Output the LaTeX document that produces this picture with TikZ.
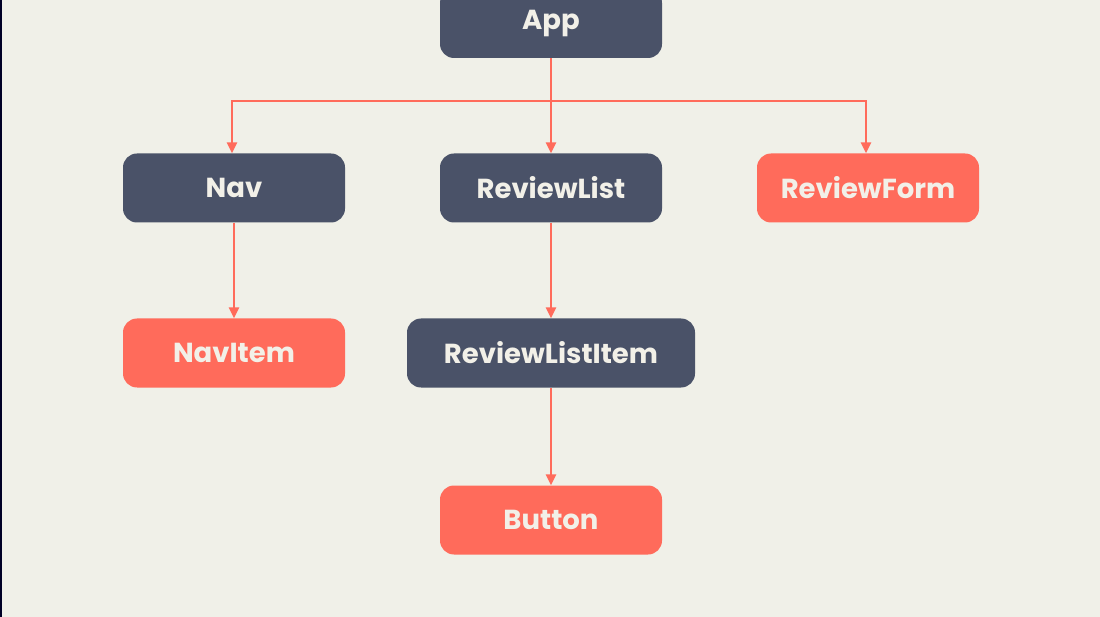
\documentclass[tikz,border=0pt]{standalone}
\usepackage{fontspec}
\setmainfont{Poppins}
\usetikzlibrary{arrows.meta}
\definecolor{bg}{HTML}{F0F0E8}
\definecolor{slate}{HTML}{4A5268}
\definecolor{coral}{HTML}{FF6B5B}
\definecolor{txt}{HTML}{F2F0E8}
\begin{document}
\begin{tikzpicture}[x=1pt,y=-1pt,
  box/.style={rounded corners=14pt, minimum height=69pt, minimum width=222pt, inner sep=0pt,
    text=txt, font=\fontsize{27.5}{32}\selectfont\bfseries},
  darkbox/.style={box, fill=slate},
  redbox/.style={box, fill=coral},
  conn/.style={draw=coral, line width=2.8pt, -{Triangle[length=11pt,width=10pt]}}]
\useasboundingbox (0,0) rectangle (1100,617);
\fill[bg] (0,0) rectangle (1100,617);
\fill[black!85!blue] (0,0) rectangle (1.5,617);
\node[darkbox] (app) at (551,23.5) {App};
\node[darkbox] (nav) at (234,188) {Nav};
\node[darkbox] (rl) at (551,188) {ReviewList};
\node[redbox] (rf) at (868,188) {ReviewForm};
\node[redbox] (ni) at (234,353) {NavItem};
\node[darkbox, minimum width=288pt] (rli) at (551,353) {ReviewListItem};
\node[redbox] (btn) at (551,520) {Button};
\coordinate (j) at (551,101);
\draw[conn] (app.south) -- (rl.north);
\draw[conn] (j) -| ([xshift=-2pt]nav.north);
\draw[conn] (j) -| ([xshift=-2pt]rf.north);
\draw[conn] (nav.south) -- (ni.north);
\draw[conn] (rl.south) -- (rli.north);
\draw[conn] (rli.south) -- (btn.north);
\end{tikzpicture}
\end{document}
